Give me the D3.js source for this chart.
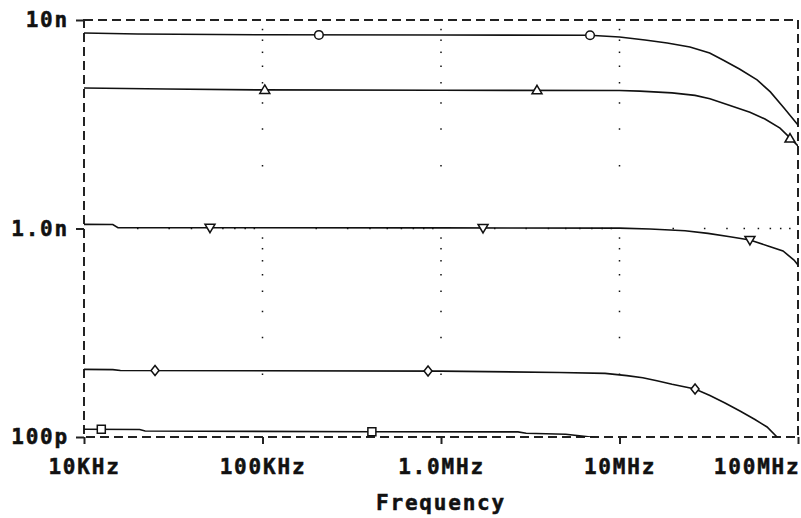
<!DOCTYPE html>
<html>
<head>
<meta charset="utf-8">
<script src="https://cdn.jsdelivr.net/npm/d3@7"></script>
<style>
  body { margin: 0; background: #fff; }
  svg { display: block; }
</style>
</head>
<body>
<div id="chart"></div>
<script>
// axis ticks
var freqTicks = [1e4, 1e5, 1e6, 1e7, 1e8];
var freqLabels = ["10KHz", "100KHz", "1.0MHz", "10MHz", "100MHz"];
var capTicks = [0.1, 1, 10];          // nF
var capLabels = ["100p", "1.0n", "10n"];
var xTitle = "Frequency";

// curves, [frequency Hz, capacitance nF]
var curveCircle = [[1e4, 8.66], [2e4, 8.57], [1e5, 8.49], [1e6, 8.47], [6.8e6, 8.45], [1.0e7, 8.29], [1.39e7, 8.02],
    [1.85e7, 7.76], [2.48e7, 7.42], [3.2e7, 6.95], [3.8e7, 6.43], [4.7e7, 5.82], [5.9e7, 5.16], [7.0e7, 4.52],
    [8.35e7, 3.78], [1e8, 3.14]];
var curveTriUp = [[1e4, 4.72], [2.9e4, 4.67], [1e5, 4.62], [1e6, 4.60], [1.0e7, 4.59], [1.3e7, 4.56], [1.97e7, 4.47],
    [2.65e7, 4.35], [3.21e7, 4.19], [4.16e7, 3.89], [5.38e7, 3.61], [6.53e7, 3.35], [7.93e7, 3.03], [9.02e7, 2.72],
    [1e8, 2.49]];
var curveTriDown = [[1e4, 1.047], [1.45e4, 1.045], [1.55e4, 1.009], [1e6, 1.007], [1.0e7, 1.004], [1.48e7, 0.994],
    [2.33e7, 0.976], [3.13e7, 0.948], [4.16e7, 0.913], [5.38e7, 0.881], [6.79e7, 0.824], [8.24e7, 0.780],
    [9.5e7, 0.706], [1e8, 0.668]];
var curveDiamond = [[1e4, 0.211], [1.45e4, 0.2105], [1.6e4, 0.2085], [1e6, 0.207], [4.6e6, 0.204], [8.3e6, 0.202],
    [1.1e7, 0.197], [1.35e7, 0.1925], [1.62e7, 0.186], [1.97e7, 0.179], [2.65e7, 0.170], [3.21e7, 0.158],
    [3.9e7, 0.1456], [4.73e7, 0.1332], [5.74e7, 0.1213], [6.71e7, 0.1117], [7.63e7, 0.100], [8.5e7, 0.092]];
var curveSquare = [[1e4, 0.1089], [2.05e4, 0.1087], [2.2e4, 0.1069], [4.1e5, 0.1060], [2.7e6, 0.1058],
    [3.0e6, 0.1042], [5e6, 0.1030], [6.5e6, 0.1005], [7.5e6, 0.0990], [1e7, 0.096]];

// markers, [frequency Hz, capacitance nF]
var markCircle = [[2.07e5, 8.48], [6.84e6, 8.45]];
var markTriUp = [[1.03e5, 4.62], [3.45e6, 4.60], [9.02e7, 2.70]];
var markTriDown = [[5.08e4, 1.009], [1.72e6, 1.006], [5.38e7, 0.881]];
var markDiamond = [[2.5e4, 0.2085], [8.46e5, 0.2072], [2.65e7, 0.170]];
var markSquare = [[1.25e4, 0.1089], [4.1e5, 0.1060]];

var W = 801, H = 518;
var plotL = 84, plotR = 798, plotT = 20, plotB = 437;
var ink = "#111";
var font = "'DejaVu Sans Mono', 'Liberation Mono', monospace";

var svg = d3.select("#chart").append("svg").attr("width", W).attr("height", H);

var x = d3.scaleLog().domain([1e4, 1e8]).range([plotL, plotR]);
var y = d3.scaleLog().domain([0.1, 10]).range([plotB, plotT]);

svg.append("clipPath").attr("id", "plot").append("rect")
    .attr("x", plotL).attr("y", plotT).attr("width", plotR - plotL).attr("height", plotB - plotT);

// dotted grid: dots at minor decade positions along the major lines
var minorF = [], minorC = [];
[1e4, 1e5, 1e6, 1e7].forEach(function (d) { for (var k = 2; k <= 9; k++) minorF.push(d * k); });
[0.1, 1].forEach(function (d) { for (var k = 2; k <= 9; k++) minorC.push(d * k); });

var grid = svg.append("g").attr("fill", ink);
[1e5, 1e6, 1e7].forEach(function (f) {
    grid.selectAll(null).data(minorC).enter().append("rect")
        .attr("x", x(f) - 0.75).attr("y", d => y(d) - 0.75).attr("width", 1.5).attr("height", 1.5);
});
grid.selectAll(null).data(minorF).enter().append("rect")
    .attr("x", d => x(d) - 0.75).attr("y", y(1) - 0.75).attr("width", 1.5).attr("height", 1.5);

// dashed frame
svg.append("rect").attr("x", plotL).attr("y", plotT).attr("width", plotR - plotL).attr("height", plotB - plotT)
    .attr("fill", "none").attr("stroke", "#222").attr("stroke-width", 2).attr("stroke-dasharray", "9,5");

// axes
var yAxis = svg.append("g").attr("transform", "translate(" + plotL + ",0)")
    .call(d3.axisLeft(y).tickValues(capTicks).tickFormat((d, i) => capLabels[i]).tickSize(8).tickPadding(7));
var xAxis = svg.append("g").attr("transform", "translate(0," + plotB + ")")
    .call(d3.axisBottom(x).tickValues(freqTicks).tickFormat((d, i) => freqLabels[i]).tickSize(7).tickPadding(15));

function labelStyle(sel) {
    sel.attr("fill", ink).attr("stroke", ink).attr("stroke-width", 0.5)
        .style("font-family", font).style("font-size", "21px")
        .style("font-weight", "bold").style("letter-spacing", "1.8px");
}

[yAxis, xAxis].forEach(function (a) {
    a.select(".domain").remove();
    a.selectAll("line").attr("stroke", "#222").attr("stroke-width", 2);
    a.selectAll("text").call(labelStyle);
});
// last frequency label sits inside the window
xAxis.selectAll("text").filter((d, i) => i === freqTicks.length - 1).attr("text-anchor", "end").attr("x", 2);

svg.append("text").attr("x", (plotL + plotR) / 2).attr("y", 510).attr("text-anchor", "middle")
    .call(labelStyle).text(xTitle);

// curves
var line = d3.line().x(d => x(d[0])).y(d => y(d[1]));
var curves = svg.append("g").attr("clip-path", "url(#plot)");
[curveCircle, curveTriUp, curveTriDown, curveDiamond, curveSquare].forEach(function (c) {
    curves.append("path").datum(c).attr("d", line)
        .attr("fill", "none").attr("stroke", ink).attr("stroke-width", 1.6);
});

// markers
var shapes = {
    circle: "M4.3,0A4.3,4.3,0,1,1,-4.3,0A4.3,4.3,0,1,1,4.3,0Z",
    triUp: "M0,-5L5,3.5L-5,3.5Z",
    triDown: "M0,5L5,-3.5L-5,-3.5Z",
    diamond: "M0,-5L4,0L0,5L-4,0Z",
    square: "M-4,-4H4V4H-4Z"
};
[[markCircle, "circle"], [markTriUp, "triUp"], [markTriDown, "triDown"], [markDiamond, "diamond"], [markSquare, "square"]]
    .forEach(function (m) {
        svg.append("g").selectAll("path").data(m[0]).enter().append("path")
            .attr("transform", d => "translate(" + x(d[0]) + "," + y(d[1]) + ")")
            .attr("d", shapes[m[1]]).attr("fill", "#fff").attr("stroke", ink).attr("stroke-width", 1.5);
    });
</script>
</body>
</html>
